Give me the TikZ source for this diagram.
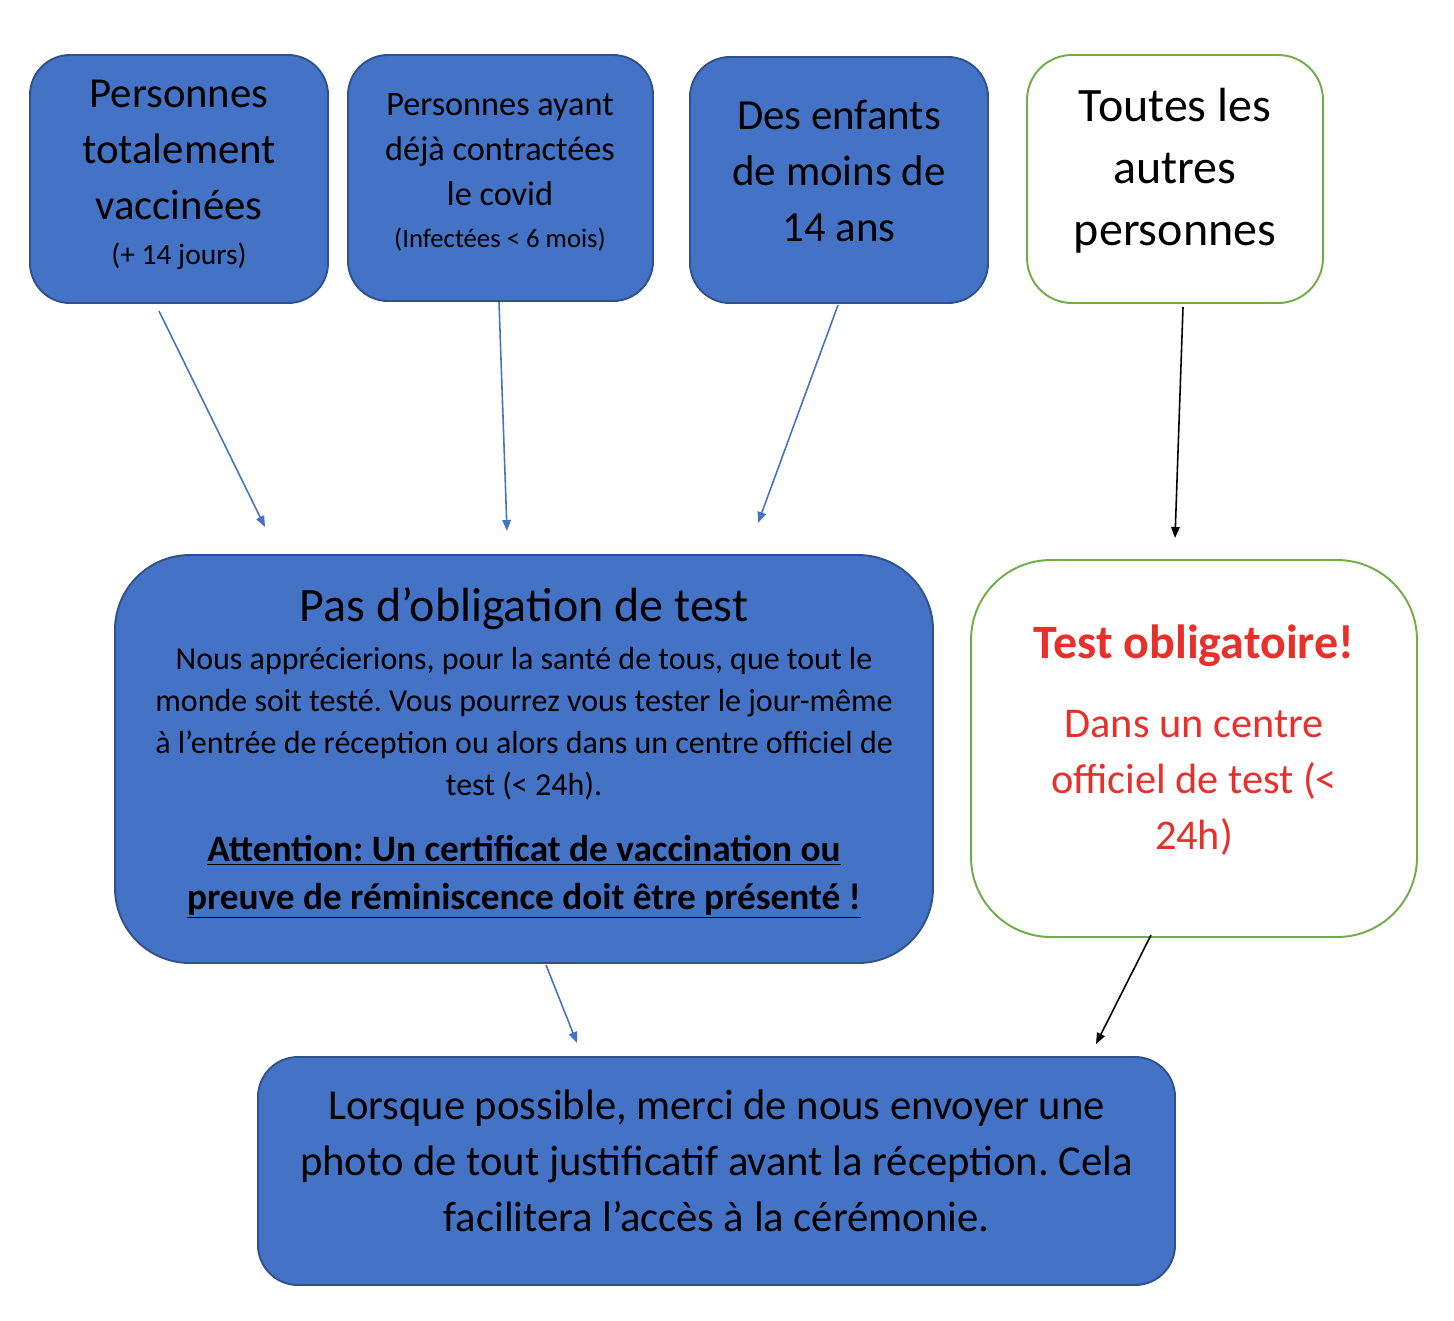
\documentclass[tikz,border=0pt]{standalone}
\usepackage{fontspec}
\setmainfont{Carlito}
\usetikzlibrary{arrows.meta}
\frenchspacing
\definecolor{boxblue}{HTML}{4472C4}
\definecolor{boxedge}{HTML}{2F528F}
\definecolor{boxgreen}{HTML}{70AD47}
\definecolor{warnred}{HTML}{E8302A}
\tikzset{
  bluebox/.style={draw=boxedge, fill=boxblue, line width=1.1pt, inner sep=0pt},
  greenbox/.style={draw=boxgreen, fill=white, line width=1.1pt, inner sep=0pt},
  txt/.style={align=center, inner sep=0pt, text=black},
  bluearrow/.style={draw=boxblue, line width=0.9pt, -{Triangle[length=2.2mm,width=1.7mm]}},
  blackarrow/.style={draw=black, line width=0.9pt, -{Triangle[length=2.2mm,width=1.7mm]}}
}
\begin{document}
\begin{tikzpicture}
\useasboundingbox (0,0) rectangle (29.08,-26.4);
% boxes
\node[bluebox, rounded corners=8mm, minimum width=5.96cm, minimum height=4.96cm] (b1) at (3.58,-3.58) {};
\node[bluebox, rounded corners=8mm, minimum width=6.10cm, minimum height=4.92cm] (b2) at (10.01,-3.56) {};
\node[bluebox, rounded corners=8mm, minimum width=5.96cm, minimum height=4.92cm] (b3) at (16.78,-3.60) {};
\node[greenbox, rounded corners=9mm, minimum width=5.92cm, minimum height=4.96cm] (b4) at (23.50,-3.58) {};
\node[bluebox, rounded corners=15mm, minimum width=16.36cm, minimum height=8.16cm] (b5) at (10.48,-15.18) {};
\node[greenbox, rounded corners=16mm, minimum width=8.92cm, minimum height=7.54cm] (b6) at (23.88,-14.97) {};
\node[bluebox, rounded corners=8mm, minimum width=18.34cm, minimum height=4.56cm] (b7) at (14.33,-23.42) {};
% texts
\node[txt, font=\fontsize{24.3}{31.9}\selectfont] (t1) at (3.58,-3.50) {Personnes\\totalement\\vaccinées\\[-6pt]{\fontsize{16.8}{20}\selectfont (+ 14 jours)}};
\node[txt, font=\fontsize{19.5}{25.6}\selectfont] (t2) at (10.0,-3.45) {Personnes ayant\\déjà contractées\\le covid\\[-2pt]{\fontsize{15.2}{18}\selectfont (Infectées < 6 mois)}};
\node[txt, font=\fontsize{24.4}{31.9}\selectfont] (t3) at (16.78,-3.42) {Des enfants\\de moins de\\14 ans};
\node[txt, font=\fontsize{27.3}{35.3}\selectfont] (t4) at (23.50,-3.42) {Toutes les\\autres\\personnes};
\node[txt, font=\fontsize{27.3}{32}\selectfont] (t5a) at (10.48,-12.18) {Pas d’obligation de test};
\node[txt, font=\fontsize{18.2}{23.9}\selectfont] (t5b) at (10.48,-14.47) {Nous apprécierions, pour la santé de tous, que tout le\\monde soit testé. Vous pourrez vous tester le jour-même\\à l’entrée de réception ou alors dans un centre officiel de\\test (< 24h).};
\node[txt, font=\fontsize{21.2}{27.3}\selectfont\bfseries] (t5c) at (10.48,-17.54) {\underline{Attention: Un certificat de vaccination ou}\\\underline{preuve de réminiscence doit être présenté !}};
\node[txt, text=warnred, font=\fontsize{27.3}{32}\selectfont\bfseries] (t6a) at (23.88,-12.92) {Test obligatoire!};
\node[txt, text=warnred, font=\fontsize{24.1}{31.9}\selectfont] (t6b) at (23.88,-15.65) {Dans un centre\\officiel de test (<\\24h)};
\node[txt, font=\fontsize{24.25}{31.9}\selectfont] (t7) at (14.33,-23.22) {Lorsque possible, merci de nous envoyer une\\photo de tout justificatif avant la réception. Cela\\facilitera l’accès à la cérémonie.};
% connector ends
\coordinate (s1) at (3.18,-6.22);  \coordinate (e1) at (5.30,-10.54);
\coordinate (s2) at (9.98,-6.04);  \coordinate (e2) at (10.14,-10.62);
\coordinate (s3) at (16.76,-6.10); \coordinate (e3) at (15.16,-10.46);
\coordinate (s4) at (23.66,-6.14); \coordinate (e4) at (23.50,-10.76);
\coordinate (s5) at (10.92,-19.30); \coordinate (e5) at (11.54,-20.86);
\coordinate (s6) at (23.02,-18.70); \coordinate (e6) at (21.92,-20.88);
\draw[bluearrow] (s1) -- (e1);
\draw[bluearrow] (s2) -- (e2);
\draw[bluearrow] (s3) -- (e3);
\draw[blackarrow] (s4) -- (e4);
\draw[bluearrow] (s5) -- (e5);
\draw[blackarrow] (s6) -- (e6);
\end{tikzpicture}
\end{document}
